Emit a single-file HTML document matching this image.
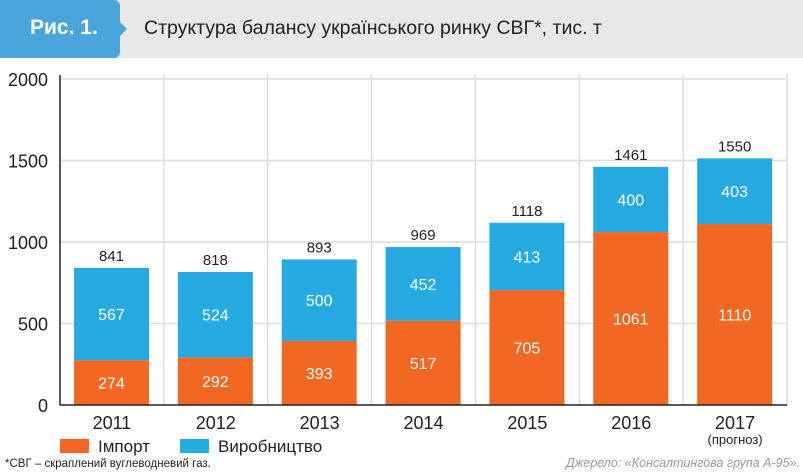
<!DOCTYPE html>
<html><head><meta charset="utf-8"><style>
body{margin:0;width:803px;height:472px;background:#fff;font-family:"Liberation Sans",sans-serif;overflow:hidden;position:relative}
.hdr{position:absolute;left:0;top:0;width:803px;height:58px;background:#e7e8ea}
.tab{position:absolute;left:0;top:0;width:120px;height:58px;background:#4aa6da;border-radius:0 6px 6px 0}
.tabt{position:absolute;left:30px;top:16px;color:#fff;font-weight:bold;font-size:21px}
.arr{position:absolute;left:119px;top:21px;width:0;height:0;border-top:8px solid transparent;border-bottom:8px solid transparent;border-left:8px solid #4aa6da}
.title{position:absolute;left:144px;top:17px;font-size:19.5px;color:#222}
</style></head><body>
<div class="hdr"></div>
<div class="tab"><span class="tabt">Рис. 1.</span></div>
<div class="arr"></div>
<div class="title">Структура балансу українського ринку СВГ*, тис. т</div>
<svg id="chart" width="803" height="472" style="position:absolute;left:0;top:0"></svg>
<script>
const categories=["2011","2012","2013","2014","2015","2016","2017"];
const importVals=[274,292,393,517,705,1061,1110];
const prodVals=[567,524,500,452,413,400,403];
const totals=[841,818,893,969,1118,1461,1550];
const yTicks=[0,500,1000,1500,2000];
const NS="http://www.w3.org/2000/svg";
const svg=document.getElementById('chart');
const X0=60,X1=787,Y0=405,Y1=79,MAX=2000;
const colW=(X1-X0)/categories.length;
const y=v=>Y0-(v/MAX)*(Y0-Y1);
const x=i=>X0+i*colW;
function mk(t,a){const e=document.createElementNS(NS,t);for(const k in a)e.setAttribute(k,a[k]);svg.appendChild(e);return e;}
yTicks.forEach(t=>{
 if(t>0){const l=mk('line',{x1:X0,x2:X1,y1:y(t),y2:y(t),stroke:'#dcdcdc','stroke-width':1.5});
 
 }
 const tx=mk('text',{x:48,y:y(t)+7,'text-anchor':'end','font-size':18,fill:'#222'});tx.textContent=t;
 
 
});
for(let i=1;i<=categories.length;i++){const l=mk('line',{x1:x(i),x2:x(i),y1:Y1-5,y2:Y0,stroke:'#dcdcdc','stroke-width':1.5});
 
 }
categories.forEach((c,i)=>{
 const bx=x(i)+14,bw=75;
 const r1=mk('rect',{x:bx,y:y(importVals[i]),width:bw,height:Y0-y(importVals[i]),fill:'#f26722'});
 
 
 const top=importVals[i]+prodVals[i];
 const r2=mk('rect',{x:bx,y:y(top),width:bw,height:y(importVals[i])-y(top),fill:'#25aae1'});
 
 
 const cx=bx+bw/2;
 const t1=mk('text',{x:cx,y:(y(importVals[i])+Y0)/2+6,'text-anchor':'middle','font-size':16,fill:'#fff'});t1.textContent=importVals[i];
 
 
 const t2=mk('text',{x:cx,y:(y(top)+y(importVals[i]))/2+6,'text-anchor':'middle','font-size':16,fill:'#fff'});t2.textContent=prodVals[i];
 
 
 const t3=mk('text',{x:cx,y:y(top)-7,'text-anchor':'middle','font-size':15,fill:'#222'});t3.textContent=totals[i];
 
 
 const t4=mk('text',{x:x(i)+colW/2,y:429,'text-anchor':'middle','font-size':18,fill:'#222'});t4.textContent=c;
 
 
});
const fc=mk('text',{x:x(6)+colW/2,y:444,'text-anchor':'middle','font-size':13,fill:'#222'});fc.textContent='(прогноз)';


const ax=mk('line',{x1:X0,x2:X0,y1:Y1-4,y2:Y0,stroke:'#222','stroke-width':1.5});


const bx=mk('line',{x1:X0,x2:X1,y1:Y0,y2:Y0,stroke:'#222','stroke-width':1.5});


[['Імпорт','#f26722',60,'legend-import'],['Виробництво','#25aae1',180,'legend-production']].forEach(d=>{
 const r=mk('rect',{x:d[2],y:439,width:29,height:14,fill:d[1]});
 
 
 const t=mk('text',{x:d[2]+38,y:452,'font-size':17,fill:'#222'});t.textContent=d[0];
 
 
});
const fn=mk('text',{x:5,y:467,'font-size':11.5,fill:'#222'});fn.textContent='*СВГ – скраплений вуглеводневий газ.';


const src=mk('text',{x:800,y:467,'text-anchor':'end','font-size':12.5,'font-style':'italic',fill:'#999'});src.textContent='Джерело: «Консалтингова група А-95».';


</script>
</body></html>
